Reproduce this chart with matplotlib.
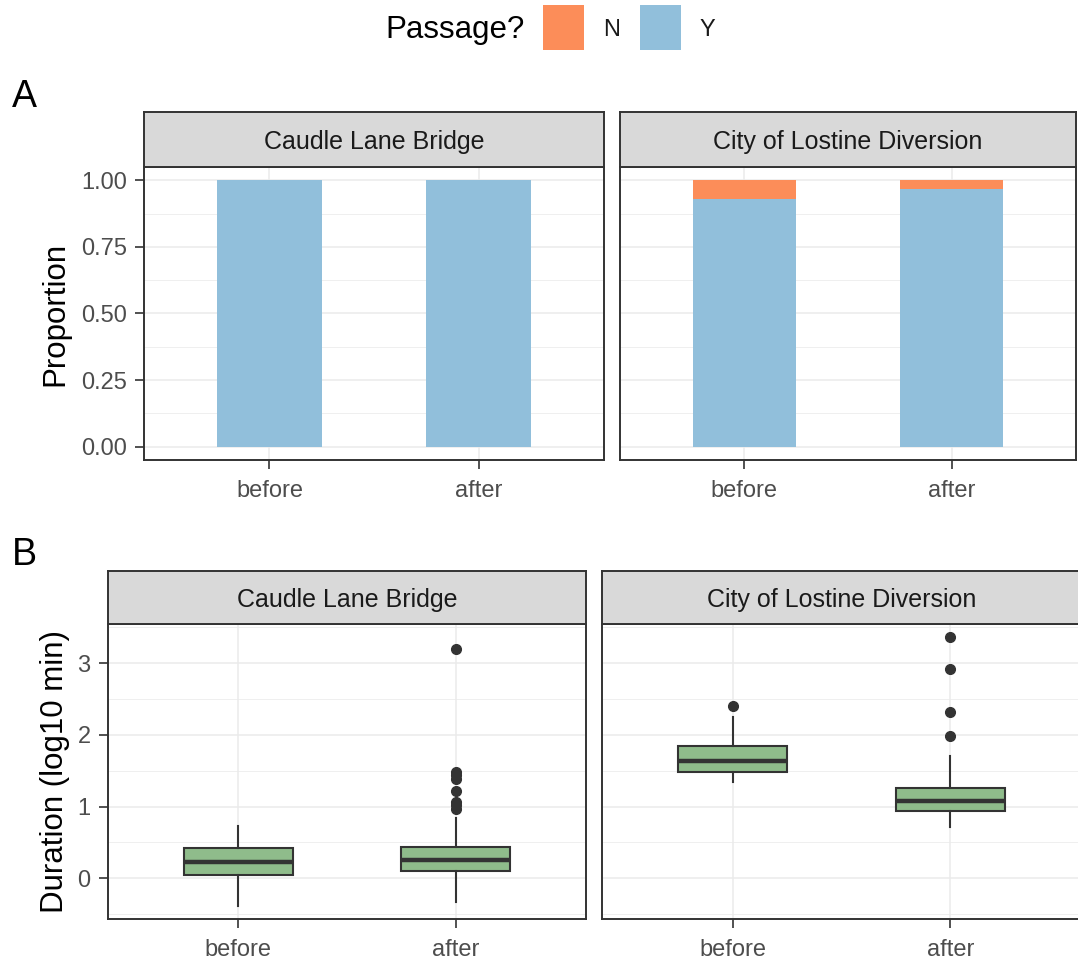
import matplotlib
matplotlib.use("Agg")
import matplotlib.pyplot as plt
from matplotlib.patches import Rectangle
import numpy as np

plt.rcParams['font.family'] = ['Liberation Sans', 'DejaVu Sans']

# data
sites = ["Caudle Lane Bridge", "City of Lostine Diversion"]
periods = ["before", "after"]
passage_levels = ["N", "Y"]
prop_Y = [[1.0, 1.0], [0.929, 0.966]]
prop_N = [[0.0, 0.0], [0.071, 0.034]]

# boxplot summaries of log10 duration, per site then per period
dur_whislo = [[-0.38, -0.33], [1.34, 0.71]]
dur_q1 = [[0.04, 0.10], [1.48, 0.94]]
dur_med = [[0.23, 0.26], [1.64, 1.08]]
dur_q3 = [[0.42, 0.44], [1.85, 1.26]]
dur_whishi = [[0.73, 0.84], [2.25, 1.71]]
dur_fliers = [[[], [3.20, 1.49, 1.44, 1.39, 1.22, 1.07, 1.02, 0.97]],
              [[2.41], [3.36, 2.92, 2.32, 1.99]]]

col_N = "#FC8D59"
col_Y = "#91BFDB"
col_box = "#8FBC8B"
dark = "#333333"
grid_col = "#EBEBEB"
tick_col = "#4D4D4D"

W, H = 1078, 972
fig = plt.figure(figsize=(W / 100, H / 100), dpi=100)


def px_axes(l, t, r, b):
    return fig.add_axes([l / W, 1 - b / H, (r - l) / W, (b - t) / H])


def style_panel(ax, show_y):
    ax.set_axisbelow(True)
    for s in ax.spines.values():
        s.set_color(dark)
        s.set_linewidth(1.4)
    ax.grid(which="major", color=grid_col, linewidth=1.1)
    ax.grid(which="minor", axis="y", color=grid_col, linewidth=0.55)
    ax.tick_params(axis="both", which="major", length=6.5, width=1.2, color=dark,
                   labelsize=17, labelcolor=tick_col, pad=6)
    ax.tick_params(axis="x", pad=8)
    ax.tick_params(which="minor", length=0)
    if not show_y:
        ax.tick_params(axis="y", which="both", left=False, labelleft=False)


def strip(l, t, r, b, label):
    s = px_axes(l, t, r, b)
    s.set_facecolor("#D9D9D9")
    s.set_xticks([])
    s.set_yticks([])
    for sp in s.spines.values():
        sp.set_color(dark)
        sp.set_linewidth(1.4)
    s.text(0.5, 0.46, label, ha="center", va="center", fontsize=18,
           color="#1A1A1A", transform=s.transAxes)


x = np.arange(1, len(periods) + 1)

# ---- panel A: proportions
top_boxes = [(144, 167, 604, 460), (620, 167, 1076, 460)]
for i, site in enumerate(sites):
    l, t, r, b = top_boxes[i]
    ax = px_axes(l, t, r, b)
    ax.bar(x, prop_Y[i], width=0.5, color=col_Y, linewidth=0)
    ax.bar(x, prop_N[i], bottom=prop_Y[i], width=0.5, color=col_N, linewidth=0)
    ax.set_xlim(0.4, 2.6)
    ax.set_ylim(-0.05, 1.05)
    ax.set_xticks(x)
    ax.set_xticklabels(periods)
    ax.set_yticks([0, 0.25, 0.5, 0.75, 1.0])
    ax.set_yticklabels(["0.00", "0.25", "0.50", "0.75", "1.00"])
    ax.set_yticks([0.125, 0.375, 0.625, 0.875], minor=True)
    style_panel(ax, i == 0)
    if i == 0:
        ax.set_ylabel("Proportion", fontsize=22.5)
        ax.yaxis.set_label_coords((70 - l) / (r - l), 0.5)
    strip(l, 112, r, t, site)

# ---- panel B: duration boxplots
bot_boxes = [(108, 624, 586, 919), (602, 624, 1081, 919)]
for i, site in enumerate(sites):
    l, t, r, b = bot_boxes[i]
    ax = px_axes(l, t, r, b)
    stats = []
    for j in range(len(periods)):
        stats.append(dict(whislo=dur_whislo[i][j], q1=dur_q1[i][j], med=dur_med[i][j],
                          q3=dur_q3[i][j], whishi=dur_whishi[i][j],
                          fliers=dur_fliers[i][j]))
    ax.bxp(stats, positions=x, widths=0.5, patch_artist=True, showcaps=False,
           boxprops=dict(facecolor=col_box, edgecolor=dark, linewidth=1.5),
           medianprops=dict(color=dark, linewidth=3.2),
           whiskerprops=dict(color=dark, linewidth=1.5),
           flierprops=dict(marker="o", markerfacecolor=dark, markeredgecolor=dark,
                           markersize=7))
    ax.set_xlim(0.4, 2.6)
    ax.set_ylim(-0.567, 3.547)
    ax.set_xticks(x)
    ax.set_xticklabels(periods)
    ax.set_yticks([0, 1, 2, 3])
    ax.set_yticks([-0.5, 0.5, 1.5, 2.5, 3.5], minor=True)
    style_panel(ax, i == 0)
    if i == 0:
        ax.set_ylabel("Duration (log10 min)", fontsize=22.5)
        ax.yaxis.set_label_coords((70 - l) / (r - l), 0.5)
    strip(l, 571, r, t, site)

# panel tags
fig.text(12 / W, 1 - 97 / H, "A", fontsize=27, ha="left", va="center")
fig.text(12 / W, 1 - 555 / H, "B", fontsize=27, ha="left", va="center")

# legend across the top
fig.text(525 / W, 1 - 30 / H, "Passage?", fontsize=22.5, ha="right", va="center")
key_x = [543, 640]
for k, (lev, col) in enumerate(zip(passage_levels, [col_N, col_Y])):
    fig.add_artist(Rectangle((key_x[k] / W, 1 - 50 / H), 41 / W, 45 / H,
                             facecolor=col, edgecolor="none",
                             transform=fig.transFigure))
    fig.text((key_x[k] + 60) / W, 1 - 30 / H, lev, fontsize=17, ha="left",
             va="center", color="#1A1A1A")

fig.savefig("out.png", dpi=100)
